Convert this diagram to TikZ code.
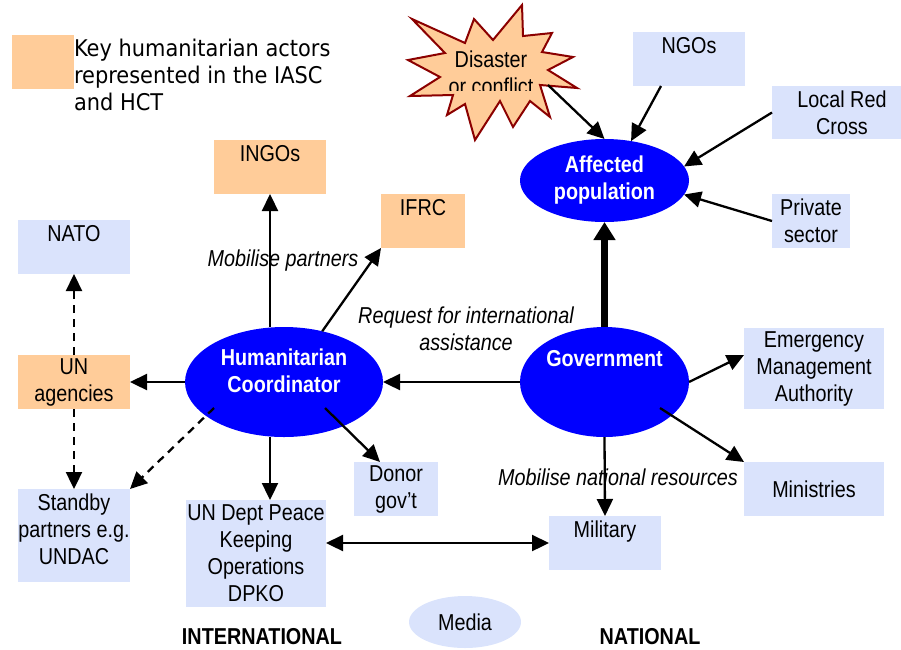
\documentclass[tikz,border=0pt]{standalone}
\usepackage{fontspec}
\setmainfont{Liberation Sans}[FakeStretch=0.86]
\newfontfamily\legendfont{DejaVu Sans}[FakeStretch=0.91]
\usetikzlibrary{arrows.meta,calc,shapes.geometric}
\definecolor{peach}{HTML}{FFCC99}
\definecolor{paleblue}{HTML}{DAE3FC}
\definecolor{ellblue}{HTML}{0000FF}
\definecolor{starred}{HTML}{8B0000}
\begin{document}
\begin{tikzpicture}[x=1pt,y=-1pt,
  every node/.style={inner sep=0pt, outer sep=0pt, align=center, font=\fontsize{23}{27}\selectfont},
  wh/.style 2 args={minimum width=#1pt, minimum height=#2pt},
  actor/.style={rectangle, fill=paleblue},
  keyactor/.style={rectangle, fill=peach},
  hub/.style={ellipse, fill=ellblue, text=white, font=\bfseries\fontsize{23}{27}\selectfont},
  lbl/.style={font=\itshape\fontsize{23}{27}\selectfont},
  headlbl/.style={font=\bfseries\fontsize{23}{27}\selectfont},
  conn/.style={line width=2.3pt, -{Triangle[length=17pt,width=16pt]}},
  dconn/.style={conn, dash pattern=on 8pt off 6pt},
  thickconn/.style={line width=7pt, -{Triangle[length=18pt,width=21pt]}}
]
\useasboundingbox (0,0) rectangle (901,649);
\clip (0,0) rectangle (901,649);

% legend
\node[keyactor, wh={62}{54}] (legendbox) at (43,62) {};
\node[anchor=west, align=left, font=\legendfont\fontsize{23}{27}\selectfont] (legendtext) at (74,75) {Key humanitarian actors\\represented in the IASC\\and HCT};

% disaster starburst
\draw[starred, line width=2pt, fill=peach, line join=miter]
  (412,19) -- (465,43) -- (474,19) -- (493,40) -- (522,5) -- (523,36) -- (552,33) -- (542,52)
  -- (573,57) -- (548,70) -- (577,88) -- (540,85) -- (550,117) -- (530,101) -- (513,127)
  -- (500,101) -- (475,140) -- (465,104) -- (447,115) -- (453,95) -- (410,96) -- (440,77)
  -- (408,60) -- (445,53) -- cycle;
\begin{scope}
  \clip (400,0) rectangle (600,90);
  \node (disaster) at (491,73) {Disaster\\or conflict};
\end{scope}
\coordinate (dstart) at (548,85);

% boxes
\node[keyactor, wh={112}{54}] (ingos) at (270,167) {INGOs\\\mbox{}};
\node[keyactor, wh={84}{54}] (ifrc) at (423,221) {IFRC\\\mbox{}};
\node[actor, wh={112}{54}] (nato) at (74,247) {NATO\\\mbox{}};
\node[keyactor, wh={112}{54}] (unag) at (74,382) {UN\\agencies};
\node[actor, wh={112}{93}] (standby) at (74,535.5) {Standby\\partners e.g.\\UNDAC\\[-15pt]\mbox{}};
\node[actor, wh={140}{107}] (dpko) at (256,553.5) {UN Dept Peace\\Keeping\\Operations\\DPKO};
\node[actor, wh={84}{54}] (donor) at (396,489) {Donor\\gov’t};
\node[actor, wh={112}{54}] (ngos) at (689,59) {NGOs\\\mbox{}};
\node[actor, wh={140}{53}] (lrc) at (842,112.5) {Local Red\\Cross};
\node[actor, wh={78}{54}] (private) at (811,221) {Private\\sector};
\node[actor, wh={140}{81}] (ema) at (814,368.5) {Emergency\\Management\\Authority};
\node[actor, wh={140}{54}] (min) at (814,489) {Ministries};
\node[actor, wh={112}{54}] (mil) at (605,543) {Military\\\mbox{}};
\node[ellipse, fill=paleblue, wh={112}{52}] (media) at (465,622) {Media};

% hubs
\node[hub, wh={169}{83}] (aff) at (604.5,180.5) {Affected\\population};
\node[hub, wh={198}{110}] (hc) at (284,382) {Humanitarian\\Coordinator\\[-5pt]\mbox{}};
\node[hub, wh={169}{110}] (gov) at (604.5,382) {Government\\[20pt]\mbox{}};

% labels
\node[lbl] (mobp) at (283,261) {Mobilise partners};
\node[lbl] (req) at (466,329) {Request for international\\assistance};
\node[lbl] (mobn) at (618,477) {Mobilise national resources};
\node[headlbl] (intl) at (262,637) {INTERNATIONAL};
\node[headlbl] (natl) at (650,637) {NATIONAL};

% connectors
\draw[conn] (dstart) -- (aff.north);
\draw[conn] ($(ngos.south west)!0.25!(ngos.south east)$) -- (aff.56);
\draw[conn] (lrc.west) -- (aff.10);
\draw[conn] (private.west) -- (aff.-10);
\draw[thickconn] (gov.north) -- (aff.south);
\draw[conn] (gov.west) -- (hc.east);
\draw[conn] ([xshift=-14pt]hc.north) -- (ingos.south);
\draw[conn] (hc.53) -- (ifrc.south west);
\draw[conn] (hc.west) -- (unag.east);
\draw[dconn] ($(hc)+(-70,26)$) -- (standby.north east);
\draw[conn] ([xshift=-14pt]hc.south) -- ([xshift=-14pt]hc.south |- dpko.north);
\draw[conn] ($(hc)+(41,26)$) -- ([xshift=26pt]donor.north west);
\draw[dconn] (unag.north) -- (nato.south);
\draw[dconn] (unag.south) -- (standby.north);
\draw[conn, {Triangle[length=17pt,width=16pt]}-{Triangle[length=17pt,width=16pt]}] (dpko.east |- mil.west) -- (mil.west);
\draw[conn] (gov.east) -- ([yshift=13.5pt]ema.west);
\draw[conn] ($(gov)+(55.5,26)$) -- (min.north west);
\draw[conn] (gov.south) -- (mil.north);
\end{tikzpicture}
\end{document}
